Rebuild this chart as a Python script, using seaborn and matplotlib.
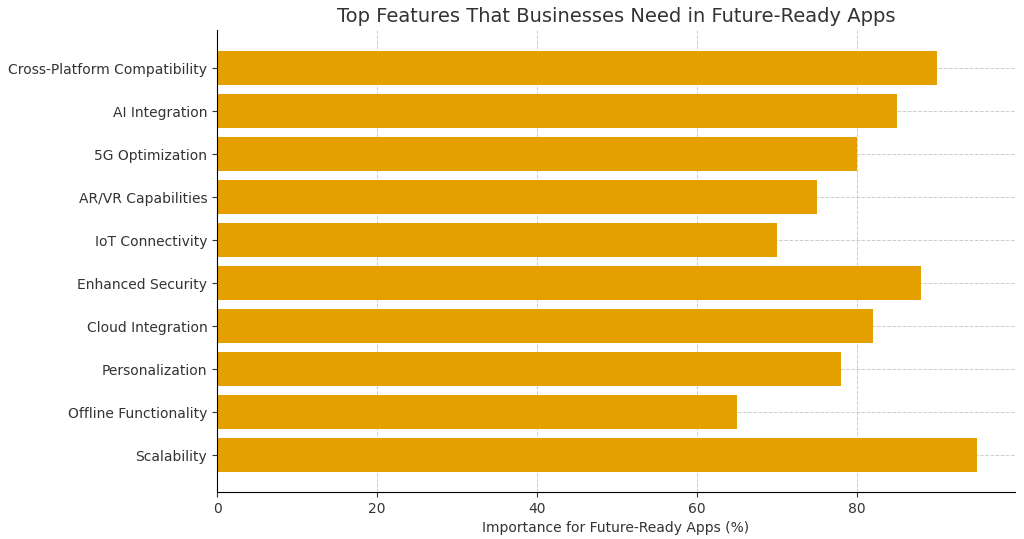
import matplotlib
matplotlib.use("Agg")
import matplotlib.pyplot as plt
import seaborn as sns
import pandas as pd

features = ["Cross-Platform Compatibility", "AI Integration", "5G Optimization",
            "AR/VR Capabilities", "IoT Connectivity", "Enhanced Security",
            "Cloud Integration", "Personalization", "Offline Functionality",
            "Scalability"]
importance = [90, 85, 80, 75, 70, 88, 82, 78, 65, 95]

df = pd.DataFrame({"feature": features, "importance": importance})

fig, ax = plt.subplots(figsize=(10.24, 5.39), dpi=100)
sns.barplot(data=df, x="importance", y="feature", color="#E69F00",
            saturation=1, width=0.8, ax=ax)

ax.set_title("Top Features That Businesses Need in Future-Ready Apps",
             fontsize=14, color="#333333")
ax.set_xlabel("Importance for Future-Ready Apps (%)", fontsize=10, color="#333333")
ax.set_ylabel("")
ax.tick_params(labelsize=10, colors="#333333")
ax.set_xlim(0, 99.75)
ax.set_ylim(9.86, -0.88)
ax.set_xticks([0, 20, 40, 60, 80])
ax.grid(True, linestyle="--", color="#cccccc", linewidth=0.7)
ax.set_axisbelow(True)
for s in ["top", "right"]:
    ax.spines[s].set_visible(False)

plt.subplots_adjust(left=0.212, right=0.991, top=0.944, bottom=0.087)
plt.savefig("out.png", dpi=100)
